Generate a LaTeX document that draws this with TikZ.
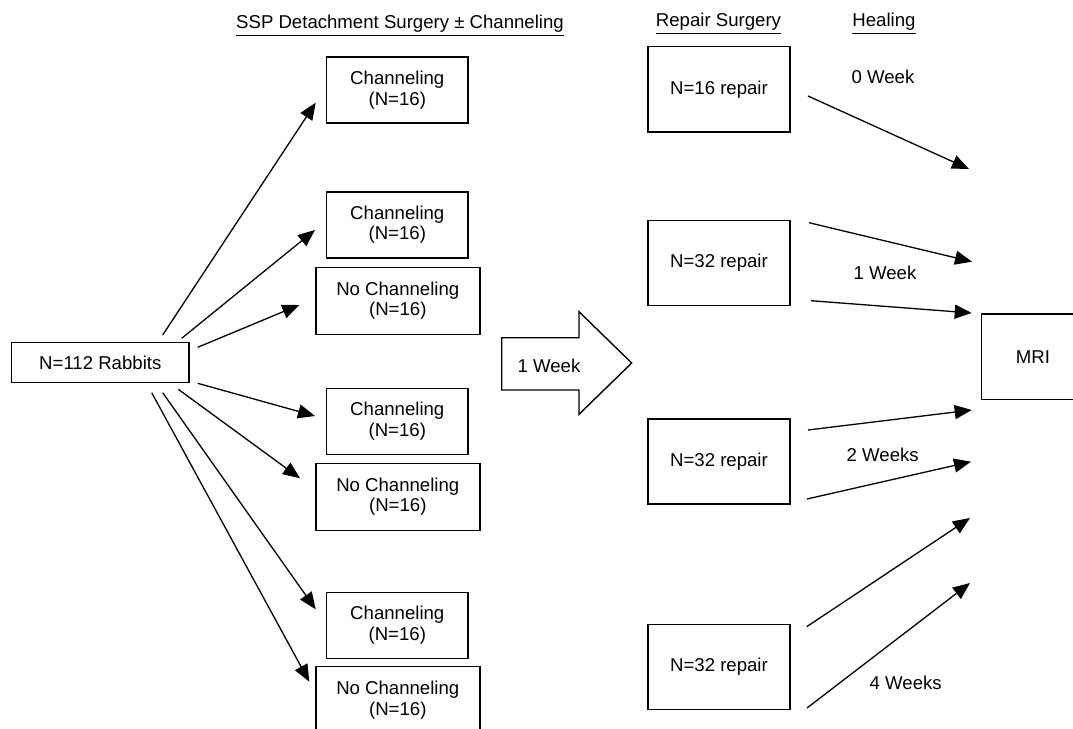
\documentclass[tikz,border=0pt]{standalone}
\usepackage{fontspec}
\setmainfont{Liberation Sans}
\usetikzlibrary{arrows.meta}

\tikzset{
  box/.style={draw, line width=0.7pt, align=center, inner sep=0pt,
              font=\fontsize{9.3}{10.3}\selectfont},
  chanbox/.style={box, minimum width=70.8pt, minimum height=33pt},
  nochanbox/.style={box, minimum width=82pt, minimum height=33.5pt},
  repairbox/.style={box, minimum width=71pt, minimum height=42.6pt},
  header/.style={font=\fontsize{9.3}{10.3}\selectfont},
  weeklabel/.style={font=\fontsize{9.3}{10.3}\selectfont},
  arr/.style={-{Triangle[length=8.5pt,width=7pt]}, line width=0.65pt}
}

\begin{document}
\begin{tikzpicture}[x=0.5pt, y=-0.5pt]

\useasboundingbox (0,0) rectangle (1073,729);

% Column headers
\node[header] (hdetach) at (400,25.7) {\underline{SSP Detachment Surgery ± Channeling}};
\node[header] (hrepair) at (718.5,24) {\underline{Repair Surgery}};
\node[header] (hheal)   at (884,24)   {\underline{Healing}};

% Starting group
\node[box, minimum width=88.7pt, minimum height=19.8pt] (rabbits) at (100.3,362.5) {N=112 Rabbits};

% Detachment groups
\node[chanbox]   (chan1)   at (397.3,90)    {Channeling\\(N=16)};
\node[chanbox]   (chan2)   at (397.3,224.8) {Channeling\\(N=16)};
\node[nochanbox] (nochan2) at (397.8,300.8) {No Channeling\\(N=16)};
\node[chanbox]   (chan3)   at (397.3,421.3) {Channeling\\(N=16)};
\node[nochanbox] (nochan3) at (397.8,496.7) {No Channeling\\(N=16)};
\node[chanbox]   (chan4)   at (397.3,625.3) {Channeling\\(N=16)};
\node[nochanbox] (nochan4) at (397.8,700)   {No Channeling\\(N=16)};

% Arrows out of the starting group
\foreach \i/\sx/\sy/\tx/\ty in {1/162.7/335/315.7/102.7, 2/181.7/338.3/315/230,
    3/197.7/347.3/299.3/305, 4/197.7/383.3/315/416, 5/178.3/389.3/300/478.3,
    6/162.7/392.7/315.7/609.3, 7/151.7/392.7/309.3/681.7} {
  \coordinate (ls\i) at (\sx,\sy);
  \coordinate (lt\i) at (\tx,\ty);
  \draw[arr] (ls\i) -- (lt\i);
}

% Block arrow (1 week)
\draw[line width=0.7pt] (501.7,337.7) -- (579,337.7) -- (579,311.7) -- (631.7,363)
  -- (579,414.3) -- (579,390) -- (501.7,390) -- cycle;
\node[weeklabel] (oneweek) at (549,366) {1 Week};

% Repair groups
\node[repairbox] (rep1) at (719,89.3)  {N=16 repair};
\node[repairbox] (rep2) at (719,262.8) {N=32 repair};
\node[repairbox] (rep3) at (719,461.5) {N=32 repair};
\node[repairbox] (rep4) at (719,667)   {N=32 repair};

% Imaging
\node[box, minimum width=51.5pt, minimum height=42.6pt] (mri) at (1033,356.7) {MRI};

% Healing arrows
\foreach \i/\sx/\sy/\tx/\ty in {1/808/96/969/169, 2/809/222.7/972/261.7,
    3/811/300.7/971.7/313, 4/808/430/971.7/410, 5/807/499/971/461.7,
    6/806.7/626.7/970/518, 7/807/708/970/583} {
  \coordinate (hs\i) at (\sx,\sy);
  \coordinate (ht\i) at (\tx,\ty);
  \draw[arr] (hs\i) -- (ht\i);
}

\node[weeklabel] (week0) at (883,77)      {0 Week};
\node[weeklabel] (week1) at (885,273)     {1 Week};
\node[weeklabel] (week2) at (882.7,455)   {2 Weeks};
\node[weeklabel] (week4) at (905.7,682.7) {4 Weeks};

\end{tikzpicture}
\end{document}
